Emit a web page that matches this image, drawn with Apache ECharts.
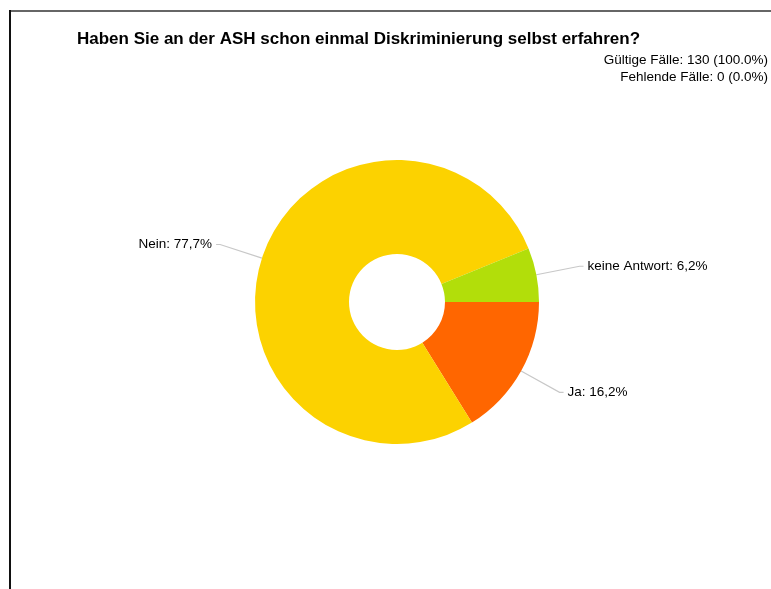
<!DOCTYPE html>
<html>
<head>
<meta charset="utf-8">
<script src="https://cdn.jsdelivr.net/npm/echarts@6/dist/echarts.min.js"></script>
<style>
html,body{margin:0;padding:0;background:#fff;}
#main{width:771px;height:589px;}
</style>
</head>
<body>
<div id="main"></div>
<script>
const categories = ['Ja', 'Nein', 'keine Antwort'];
const counts = [21, 101, 8];
const colors = ['#FF6600', '#FCD200', '#B2DE0A'];
const titleText = 'Haben Sie an der ASH schon einmal Diskriminierung selbst erfahren?';
const infoLines = ['Gültige Fälle: 130 (100.0%)', 'Fehlende Fälle: 0 (0.0%)'];

const total = counts.reduce((a, b) => a + b, 0);
const FONT = 'Liberation Sans, Arial, sans-serif';
const chart = echarts.init(document.getElementById('main'));
chart.setOption({
  animation: false,
  backgroundColor: '#fff',
  title: [
    {
      text: titleText,
      left: 72, top: 26,
      textStyle: { fontFamily: FONT, fontSize: 17, fontWeight: 'bold', color: '#000' }
    }
  ],
  graphic: [
    { type: 'rect', shape: { x: 10, y: 10, width: 761, height: 2 }, style: { fill: '#666' }, silent: true },
    { type: 'rect', shape: { x: 9, y: 10, width: 2, height: 579 }, style: { fill: '#111' }, silent: true },
    { type: 'text', x: 768, y: 60, silent: true,
      style: { text: infoLines[0], fill: '#000', font: '13.5px ' + FONT, textAlign: 'right', textVerticalAlign: 'middle' } },
    { type: 'text', x: 768, y: 77, silent: true,
      style: { text: infoLines[1], fill: '#000', font: '13.5px ' + FONT, textAlign: 'right', textVerticalAlign: 'middle' } }
  ],
  series: [{
    type: 'pie',
    center: [397, 302],
    radius: [48, 142],
    startAngle: 0,
    clockwise: true,
    avoidLabelOverlap: false,
    itemStyle: { borderWidth: 0 },
    label: {
      show: true,
      fontFamily: FONT,
      fontSize: 13.5,
      color: '#000',
      distanceToLabelLine: 4,
      formatter: p => p.name + ': ' + (p.value / total * 100).toFixed(1).replace('.', ',') + '%'
    },
    labelLine: {
      show: true,
      length: 44,
      length2: 4,
      lineStyle: { color: '#c8c8c8', width: 1.2 }
    },
    emphasis: { disabled: true },
    data: categories.map((c, i) => ({ name: c, value: counts[i], itemStyle: { color: colors[i] } }))
  }]
});
</script>
</body>
</html>
